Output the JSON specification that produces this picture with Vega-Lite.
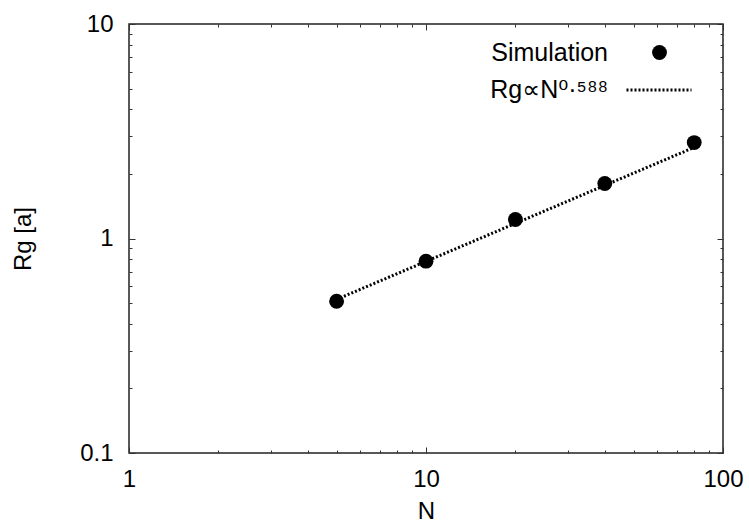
{
  "$schema": "https://vega.github.io/schema/vega-lite/v6.json",
  "width": 594,
  "height": 429,
  "autosize": {"type": "none"},
  "padding": {"left": 129, "top": 24, "right": 26, "bottom": 76},
  "background": "white",
  "config": {
    "view": {"stroke": "#222", "strokeWidth": 1.5},
    "font": "Liberation Sans",
    "axis": {
      "grid": false,
      "domain": false,
      "labelFont": "Liberation Sans",
      "labelFontSize": 24,
      "labelColor": "black",
      "titleFont": "Liberation Sans",
      "titleFontSize": 24,
      "titleFontWeight": "normal",
      "titleColor": "black",
      "tickColor": "#333",
      "tickWidth": 1,
      "labelFlush": false,
      "labelOverlap": false
    },
    "legend": {"labelFont": "Liberation Sans, DejaVu Sans", "labelFontSize": 25, "labelColor": "black"}
  },
  "datasets": {
    "sim": [
      {"N": 5, "Rg": 0.51, "series": "Simulation"},
      {"N": 10, "Rg": 0.784, "series": "Simulation"},
      {"N": 20, "Rg": 1.226, "series": "Simulation"},
      {"N": 40, "Rg": 1.805, "series": "Simulation"},
      {"N": 80, "Rg": 2.8, "series": "Simulation"}
    ],
    "fit": [
      {"N": 5, "Rg": 0.52, "series": "Rg∝N⁰·⁵⁸⁸"},
      {"N": 80, "Rg": 2.66, "series": "Rg∝N⁰·⁵⁸⁸"}
    ]
  },
  "layer": [
    {
      "data": {"name": "fit"},
      "mark": {"type": "line", "color": "black", "strokeWidth": 3},
      "encoding": {
        "x": {"field": "N", "type": "quantitative",
          "scale": {"type": "log", "domain": [1, 100], "nice": false},
          "axis": {"orient": "bottom", "values": [1, 10, 100], "ticks": false, "labelPadding": 14, "format": "~g", "title": "N", "titlePadding": 8}},
        "y": {"field": "Rg", "type": "quantitative",
          "scale": {"type": "log", "domain": [0.1, 10], "nice": false},
          "axis": {"orient": "left", "values": [0.1, 1, 10], "ticks": false, "labelPadding": 16, "format": "~g", "title": "Rg [a]", "titlePadding": 44}},
        "strokeDash": {"field": "series", "type": "nominal",
          "scale": {"range": [[2, 2]]},
          "legend": {"orient": "none", "legendX": 496, "legendY": 32, "title": null,
            "symbolType": "stroke", "symbolSize": 4225, "symbolStrokeColor": "black", "symbolStrokeWidth": 3,
            "labelAlign": "right", "labelOffset": -85}}
      }
    },
    {
      "data": {"name": "sim"},
      "mark": {"type": "point", "filled": true, "color": "black", "size": 220, "opacity": 1},
      "encoding": {
        "x": {"field": "N", "type": "quantitative",
          "axis": {"orient": "bottom", "values": [1, 10, 100], "tickSize": -6, "labels": false, "title": null}},
        "y": {"field": "Rg", "type": "quantitative",
          "axis": {"orient": "left", "values": [0.1, 1, 10], "tickSize": -6, "labels": false, "title": null}},
        "shape": {"field": "series", "type": "nominal",
          "scale": {"range": ["circle"]},
          "legend": {"orient": "none", "legendX": 518, "legendY": 16, "title": null,
            "symbolFillColor": "black", "symbolStrokeColor": "black", "symbolSize": 220, "symbolOpacity": 1,
            "labelAlign": "right", "labelOffset": -64}}
      }
    },
    {
      "data": {"name": "sim"},
      "mark": {"type": "point", "opacity": 0},
      "encoding": {
        "x": {"field": "N", "type": "quantitative",
          "axis": {"orient": "bottom", "values": [2, 3, 4, 5, 6, 7, 8, 9, 20, 30, 40, 50, 60, 70, 80, 90], "tickSize": -3, "labels": false, "title": null}},
        "y": {"field": "Rg", "type": "quantitative",
          "axis": {"orient": "left", "values": [0.2, 0.3, 0.4, 0.5, 0.6, 0.7, 0.8, 0.9, 2, 3, 4, 5, 6, 7, 8, 9], "tickSize": -3, "labels": false, "title": null}}
      }
    },
    {
      "data": {"name": "sim"},
      "mark": {"type": "point", "opacity": 0},
      "encoding": {
        "x": {"field": "N", "type": "quantitative",
          "axis": {"orient": "top", "values": [1, 10, 100], "tickSize": -6, "labels": false, "title": null}},
        "y": {"field": "Rg", "type": "quantitative",
          "axis": {"orient": "right", "values": [0.1, 1, 10], "tickSize": -6, "labels": false, "title": null}}
      }
    },
    {
      "data": {"name": "sim"},
      "mark": {"type": "point", "opacity": 0},
      "encoding": {
        "x": {"field": "N", "type": "quantitative",
          "axis": {"orient": "top", "values": [2, 3, 4, 5, 6, 7, 8, 9, 20, 30, 40, 50, 60, 70, 80, 90], "tickSize": -3, "labels": false, "title": null}},
        "y": {"field": "Rg", "type": "quantitative",
          "axis": {"orient": "right", "values": [0.2, 0.3, 0.4, 0.5, 0.6, 0.7, 0.8, 0.9, 2, 3, 4, 5, 6, 7, 8, 9], "tickSize": -3, "labels": false, "title": null}}
      }
    }
  ],
  "resolve": {"axis": {"x": "independent", "y": "independent"}}
}
